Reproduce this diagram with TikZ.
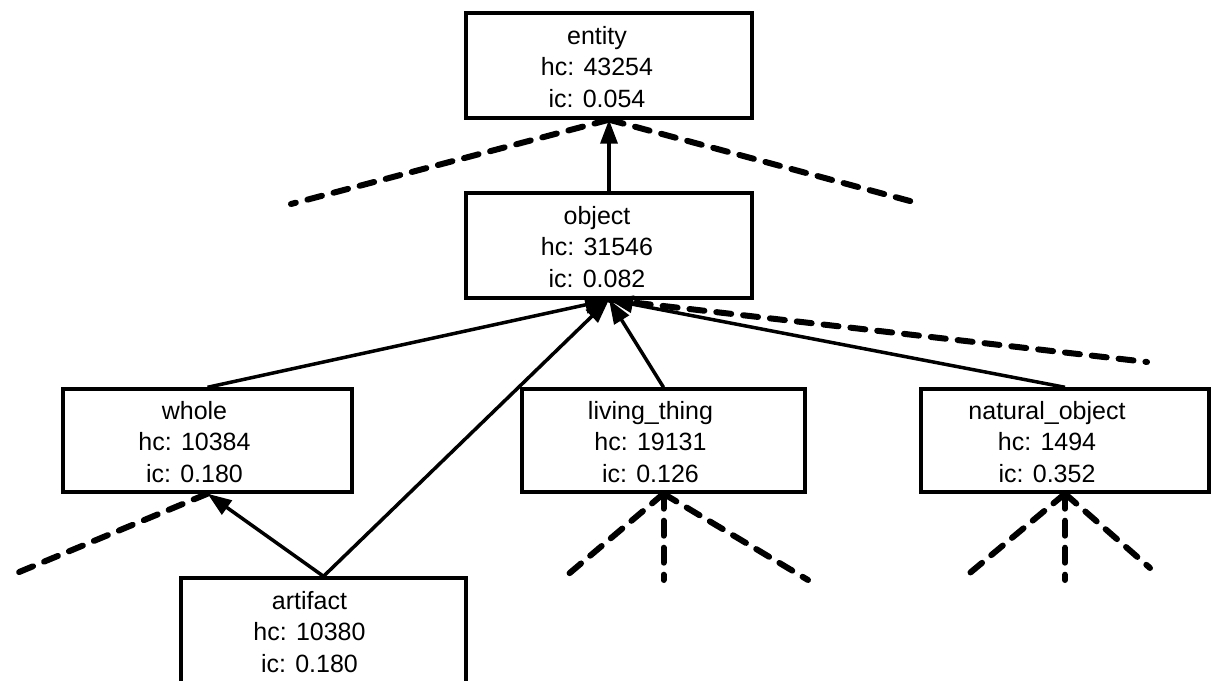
\documentclass[tikz,border=0pt]{standalone}
\usepackage{fontspec}
\setmainfont{Liberation Sans}
\usetikzlibrary{arrows.meta}
\begin{document}
\begin{tikzpicture}[x=1pt,y=-1pt,
  box/.style={draw, line width=3.4pt, minimum width=#1, minimum height=105pt, inner sep=0pt},
  lab/.style={align=center, inner sep=0pt, font=\fontsize{25}{31.5}\selectfont},
  isa/.style={line width=3.5pt, -{Triangle[length=24pt,width=17pt]}},
  more/.style={line width=6pt, line cap=round, dash pattern=on 15pt off 12pt}
]
\useasboundingbox (0,0) rectangle (1212,680);
\begin{scope}
\clip (0,0) rectangle (1212,680);

% concept boxes
\node[box=286pt] (entity)   at (609,65.5)    {};
\node[box=286pt] (object)   at (609,245.5)   {};
\node[box=289pt, minimum height=103pt] (whole)    at (207.5,440.5) {};
\node[box=283pt, minimum height=103pt] (living)   at (663.5,440.5) {};
\node[box=288pt, minimum height=103pt] (natural)  at (1065,440.5)  {};
\node[box=285pt] (artifact) at (323.5,630.5) {};

% labels: name, hyponym count, information content
\node[lab] (entity-t)   at (597,67)    {entity\\hc: 43254\\ic: 0.054};
\node[lab] (object-t)   at (597,247)   {object\\hc: 31546\\ic: 0.082};
\node[lab] (whole-t)    at (194.5,442) {whole\\hc: 10384\\ic: 0.180};
\node[lab] (living-t)   at (650.5,442) {living\_thing\\hc: 19131\\ic: 0.126};
\node[lab] (natural-t)  at (1047,442)  {natural\_object\\hc: 1494\\ic: 0.352};
\node[lab] (artifact-t) at (309.5,632) {artifact\\hc: 10380\\ic: 0.180};

% loose ends of the omitted branches
\coordinate (e1) at (291,204);
\coordinate (e2) at (921,204);
\coordinate (o1) at (1147,362);
\coordinate (w1) at (12,575);
\coordinate (l1) at (565,577);
\coordinate (l2) at (663.5,580);
\coordinate (l3) at (808,580);
\coordinate (n1) at (965,577);
\coordinate (n2) at (1065,580);
\coordinate (n3) at (1150,568);

% omitted branches
\draw[more] (entity.south) -- (e1);
\draw[more] (entity.south) -- (e2);
\draw[more] (object.south) -- (o1);
\draw[more] (whole.south) -- (w1);
\draw[more] (living.south) -- (l1);
\draw[more] (living.south) -- (l2);
\draw[more] (living.south) -- (l3);
\draw[more] (natural.south) -- (n1);
\draw[more] (natural.south) -- (n2);
\draw[more] (natural.south) -- (n3);

% is-a links
\draw[isa] (object.north) -- (entity.south);
\draw[isa] (whole.north) -- (object.south);
\draw[isa] (artifact.north) -- (object.south);
\draw[isa] (living.north) -- (object.south);
\draw[isa] (natural.north) -- (object.south);
\draw[isa] (artifact.north) -- (whole.south);
\end{scope}
\end{tikzpicture}
\end{document}
